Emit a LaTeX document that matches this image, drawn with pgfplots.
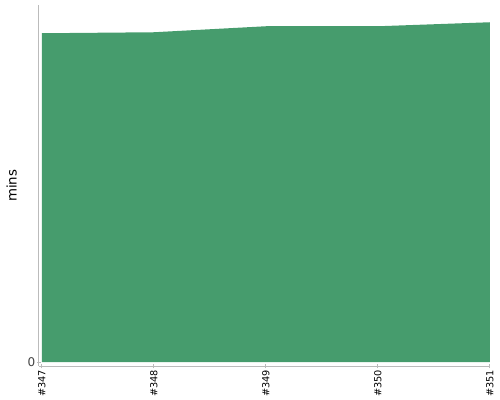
\documentclass[border=0pt]{standalone}
\usepackage{pgfplots}
\pgfplotsset{compat=1.18}
\usepackage{fontspec}
\setmainfont{DejaVu Sans}
\definecolor{areagreen}{HTML}{469C6D}
\definecolor{axgray}{HTML}{BBBBBB}
\definecolor{txtgray}{HTML}{444444}
\begin{document}
\begin{tikzpicture}[x=1pt,y=1pt]
\path[use as bounding box] (0,0) rectangle (375,300);
\begin{axis}[
  at={(34.75,33.75)}, anchor=south west,
  scale only axis,
  width=338.25pt, height=270.75pt,
  xmin=-0.027, xmax=4,
  ymin=-0.4, ymax=35.7,
  axis x line=bottom, axis y line=left,
  axis line style={axgray, line width=0.75pt, -},
  xtick={0,1,2,3,4},
  xticklabels={\#347,\#348,\#349,\#350,\#351},
  x tick label style={rotate=90, anchor=east, inner sep=1pt, font=\fontsize{7.3}{8}\selectfont, text=black},
  ytick={0},
  y tick label style={font=\fontsize{9}{10}\selectfont, text=txtgray, inner sep=1pt},
  tick style={axgray, line width=0.75pt},
  major tick length=3pt,
  ylabel={mins},
  ylabel style={font=\fontsize{9.75}{11}\selectfont, text=txtgray},
  every axis y label/.style={at={([xshift=-20.5pt]axis description cs:0,0.5)}, rotate=90, anchor=center},
  clip=false,
  /pgf/number format/assume math mode=true,
]
\addplot[fill=areagreen, draw=none] coordinates {
 (0,0) (0,32.9) (1,33.0) (2,33.6) (3,33.6) (4,34.0) (4,0)
} -- cycle;
\end{axis}
\end{tikzpicture}
\end{document}
